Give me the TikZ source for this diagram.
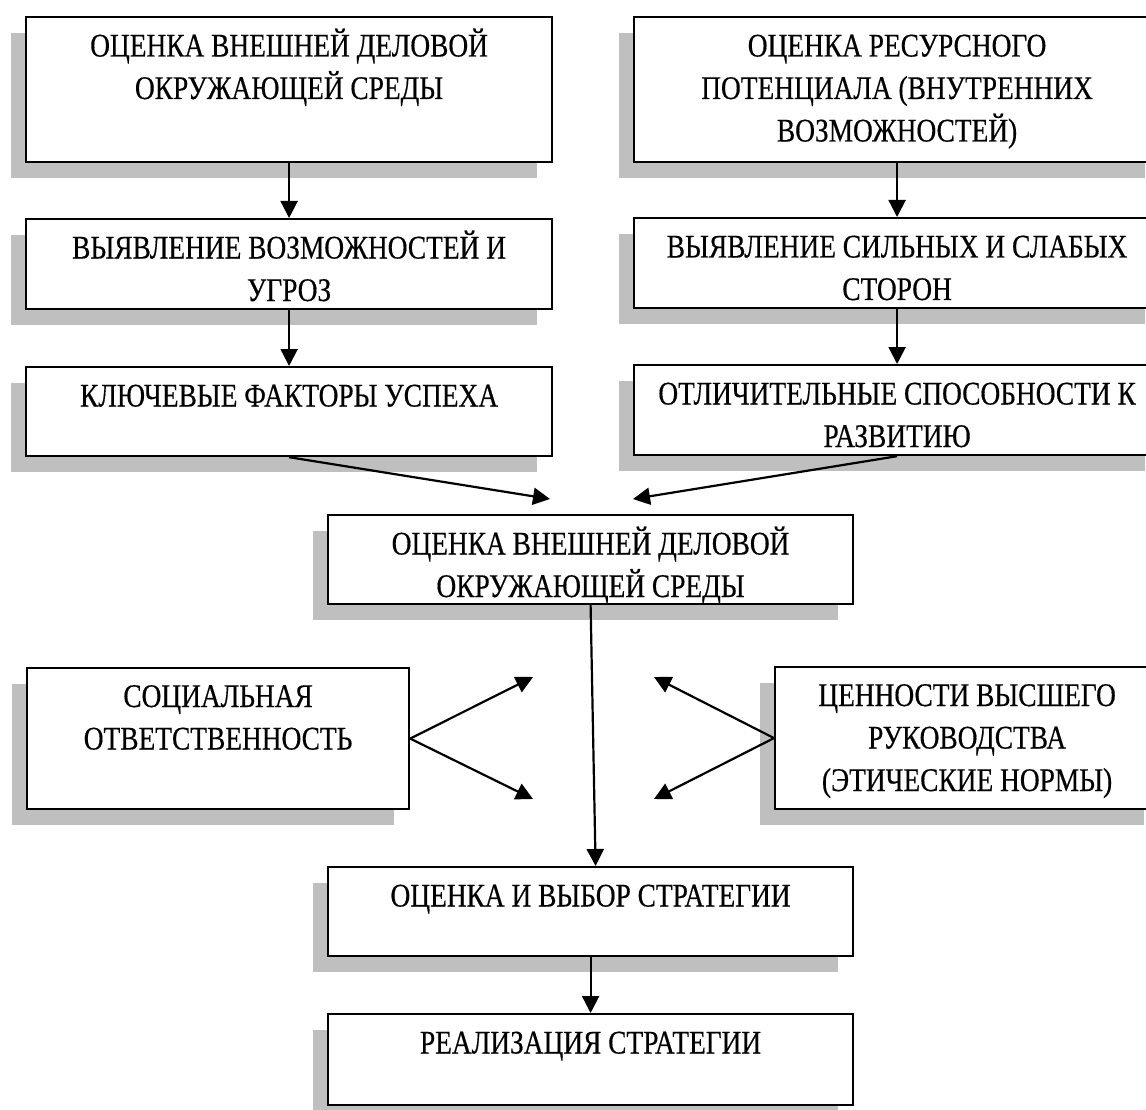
\documentclass[tikz,border=0pt]{standalone}
\usepackage{fontspec}
\setmainfont{Liberation Serif}[FakeStretch=0.83,FakeBold=0.4]
\usetikzlibrary{arrows.meta,shadows}
\definecolor{shadowgray}{RGB}{191,191,191}
% centred lines whose baseline is that of the first line
\newcommand{\boxlines}[1]{\begin{tabular}[t]{@{}c@{}}#1\end{tabular}}
\tikzset{
  flowbox/.style={draw=black, line width=2.2pt, fill=white, rectangle,
    inner sep=0pt, anchor=north west,
    drop shadow={shadow xshift=-15pt, shadow yshift=-16pt,
      fill=shadowgray, opacity=1}},
  boxtext/.style={font=\fontsize{33}{42.5}\selectfont,
    inner sep=0pt, anchor=base},
  link/.style={line width=2.2pt, -{Triangle[length=17pt,width=17pt]}},
}
\begin{document}
\begin{tikzpicture}[x=1pt,y=-1pt]
  \useasboundingbox (0,0) rectangle (1146,1110);
  \clip (0,0) rectangle (1146,1110);

  % boxes
  \node[flowbox, minimum width=526pt, minimum height=145pt] (b1) at (25,16) {};
  \node[flowbox, minimum width=526pt, minimum height=145pt] (b2) at (633,16) {};
  \node[flowbox, minimum width=526pt, minimum height=90pt] (b3) at (25,218) {};
  \node[flowbox, minimum width=526pt, minimum height=90pt] (b4) at (633,217) {};
  \node[flowbox, minimum width=526pt, minimum height=89pt] (b5) at (25,366) {};
  \node[flowbox, minimum width=526pt, minimum height=90pt] (b6) at (633,364) {};
  \node[flowbox, minimum width=525pt, minimum height=89pt] (b7) at (327,514) {};
  \node[flowbox, minimum width=382pt, minimum height=141pt] (b8) at (26,667) {};
  \node[flowbox, minimum width=384pt, minimum height=142pt] (b9) at (774,666) {};
  \node[flowbox, minimum width=525pt, minimum height=89pt] (b10) at (327,866) {};
  \node[flowbox, minimum width=525pt, minimum height=91pt] (b11) at (327,1013) {};

  % box captions, first baseline 40.5pt below each box top
  \node[boxtext] (t1) at ([yshift=-40.5pt]b1.north) {\boxlines{ОЦЕНКА ВНЕШНЕЙ ДЕЛОВОЙ\\ОКРУЖАЮЩЕЙ СРЕДЫ}};
  \node[boxtext] (t2) at ([yshift=-40.5pt]b2.north) {\boxlines{ОЦЕНКА РЕСУРСНОГО\\ПОТЕНЦИАЛА (ВНУТРЕННИХ\\ВОЗМОЖНОСТЕЙ)}};
  \node[boxtext] (t3) at ([yshift=-40.5pt]b3.north) {\boxlines{ВЫЯВЛЕНИЕ ВОЗМОЖНОСТЕЙ И\\УГРОЗ}};
  \node[boxtext] (t4) at ([yshift=-40.5pt]b4.north) {\boxlines{ВЫЯВЛЕНИЕ СИЛЬНЫХ И СЛАБЫХ\\СТОРОН}};
  \node[boxtext] (t5) at ([yshift=-40.5pt]b5.north) {\boxlines{КЛЮЧЕВЫЕ ФАКТОРЫ УСПЕХА}};
  \node[boxtext] (t6) at ([yshift=-40.5pt]b6.north) {\boxlines{ОТЛИЧИТЕЛЬНЫЕ СПОСОБНОСТИ К\\РАЗВИТИЮ}};
  \node[boxtext] (t7) at ([yshift=-40.5pt]b7.north) {\boxlines{ОЦЕНКА ВНЕШНЕЙ ДЕЛОВОЙ\\ОКРУЖАЮЩЕЙ СРЕДЫ}};
  \node[boxtext] (t8) at ([yshift=-40pt]b8.north) {\boxlines{СОЦИАЛЬНАЯ\\ОТВЕТСТВЕННОСТЬ}};
  \node[boxtext] (t9) at ([yshift=-40pt]b9.north) {\boxlines{ЦЕННОСТИ ВЫСШЕГО\\РУКОВОДСТВА\\(ЭТИЧЕСКИЕ НОРМЫ)}};
  \node[boxtext] (t10) at ([yshift=-40.5pt]b10.north) {\boxlines{ОЦЕНКА И ВЫБОР СТРАТЕГИИ}};
  \node[boxtext] (t11) at ([yshift=-40.5pt]b11.north) {\boxlines{РЕАЛИЗАЦИЯ СТРАТЕГИИ}};

  % free ends of the arrows
  \coordinate (p7l) at (550,499);
  \coordinate (p7r) at (633,499);
  \coordinate (s1) at (533,677);
  \coordinate (s2) at (533,799);
  \coordinate (e1) at (654,677);
  \coordinate (e2) at (654,799);

  % connectors
  \draw[link] (b1.south) -- (b3.north);
  \draw[link] (b3.south) -- (b5.north);
  \draw[link] (b2.south) -- (b4.north);
  \draw[link] (b4.south) -- (b6.north);
  \draw[link] (b5.south) -- (p7l);
  \draw[link] (b6.south) -- (p7r);
  \draw[link] (b7.south) -- ([xshift=5pt]b10.north);
  \draw[link] (b8.east) -- (s1);
  \draw[link] (b8.east) -- (s2);
  \draw[link] (b9.west) -- (e1);
  \draw[link] (b9.west) -- (e2);
  \draw[link] (b10.south) -- (b11.north);
\end{tikzpicture}
\end{document}
